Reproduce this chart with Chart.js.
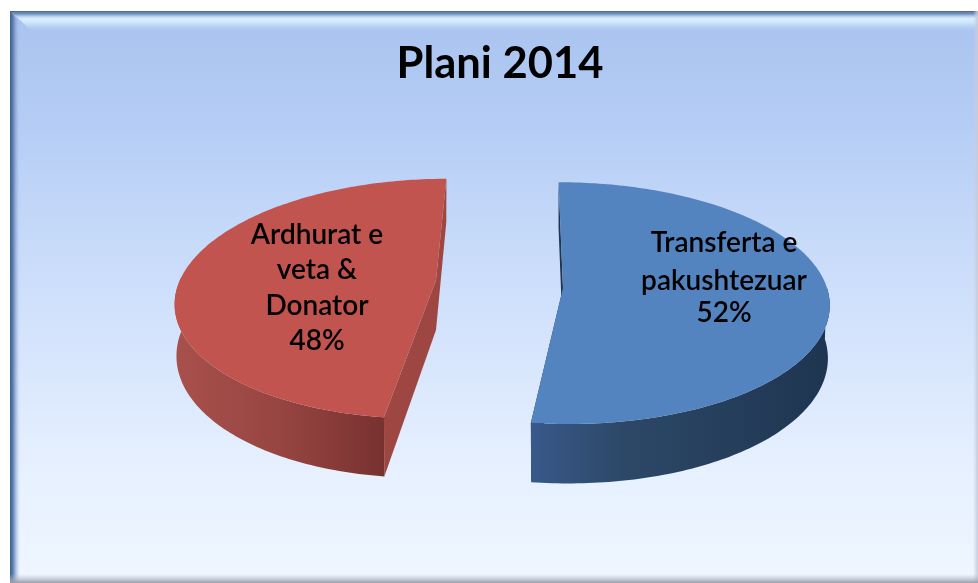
<!DOCTYPE html>
<html>
<head>
<meta charset="utf-8">
<style>html,body{margin:0;padding:0;background:#fff;overflow:hidden}canvas{display:block}</style>
<script src="https://cdn.jsdelivr.net/npm/chart.js@4/dist/chart.umd.min.js"></script>
</head>
<body>
<canvas id="c" width="978" height="583"></canvas>
<script>
const titleText = 'Plani 2014';
const categories = ['Transferta e pakushtezuar', 'Ardhurat e veta & Donator'];
const values = [52, 48];
const labelLines = [['Transferta e', 'pakushtezuar'], ['Ardhurat e', 'veta &', 'Donator']];
const topColors = ['#5484bf', '#c1544f'];

// Projection of each slice (perspective pie seen from above)
const views = [
  {cx:563, cy:288, a:264, b:119, c:5,   k:.125, D:52, cut:'#1f3550',
   wall:[[530,'#38598a'],[620,'#2d4868'],[830,'#1e3550']], labelX:724, labelY:[243,281], pctY:313},
  {cx:436, cy:280, a:256, b:117, c:-12, k:.156, D:50, cut:'#9e4742',
   wall:[[174,'#a8504c'],[280,'#974541'],[382,'#783230']], labelX:317, labelY:[235,270,306], pctY:341}
];
const baseShrink = 0.993; // the lower rim of the disc looks slightly narrower

const project = (v, theta) => {
  const u = Math.sin(theta), d = -Math.cos(theta), w = 1 - v.k * d;
  return {x: v.cx + (v.a * u + v.c * d) / w, y: v.cy + v.b * d / w, h: v.D / w, d};
};
const lower = (v, p) => ({x: v.cx + (p.x - v.cx) * baseShrink, y: p.y + p.h});

const framePlugin = {
  id: 'frame',
  beforeDraw(chart) {
    const g = chart.ctx;
    g.save();
    g.fillStyle = '#fff'; g.fillRect(0, 0, 978, 583);
    let bg = g.createLinearGradient(0, 11, 0, 583);
    bg.addColorStop(0, '#a9c3ef'); bg.addColorStop(.2, '#b5cdf5');
    bg.addColorStop(.5, '#cfe0fb'); bg.addColorStop(.8, '#e6f0ff'); bg.addColorStop(1, '#eff6ff');
    g.fillStyle = bg; g.fillRect(10, 11, 968, 572);
    // top bevel highlight
    let hi = g.createLinearGradient(0, 13, 0, 32);
    hi.addColorStop(0, '#7f9fd0'); hi.addColorStop(.3, '#dcefff');
    hi.addColorStop(.5, '#d0e6ff'); hi.addColorStop(1, 'rgba(176,202,243,0)');
    g.fillStyle = hi;
    g.beginPath(); g.moveTo(13, 13); g.lineTo(978, 13); g.lineTo(978, 32); g.lineTo(32, 32); g.closePath(); g.fill();
    // dark edges
    let l = g.createLinearGradient(10, 0, 20, 0);
    l.addColorStop(0, '#3f5f88'); l.addColorStop(.3, '#5f80b2'); l.addColorStop(1, 'rgba(170,196,240,0)');
    g.fillStyle = l;
    g.beginPath(); g.moveTo(10, 11); g.lineTo(20, 22); g.lineTo(20, 583); g.lineTo(10, 583); g.closePath(); g.fill();
    let t = g.createLinearGradient(0, 11, 0, 16);
    t.addColorStop(0, '#3f5f88'); t.addColorStop(1, 'rgba(95,128,178,0)');
    g.fillStyle = t; g.fillRect(10, 11, 968, 5);
    let r = g.createLinearGradient(973, 0, 978, 0);
    r.addColorStop(0, 'rgba(200,208,224,0)'); r.addColorStop(1, '#c4cbdb');
    g.fillStyle = r; g.fillRect(973, 11, 5, 572);
    let bt = g.createLinearGradient(0, 574, 0, 583);
    bt.addColorStop(0, 'rgba(190,195,210,0)'); bt.addColorStop(1, '#9a9ca8');
    g.fillStyle = bt; g.fillRect(10, 574, 968, 9);
    g.restore();
  }
};

const pie3dPlugin = {
  id: 'pie3d',
  beforeDatasetDraw(chart, args) {
    const g = chart.ctx, arcs = chart.getDatasetMeta(args.index).data;
    arcs.forEach((arc, i) => {
      const v = views[i], s = arc.startAngle + Math.PI / 2, e = arc.endAngle + Math.PI / 2;
      const pts = [];
      const n = Math.ceil((e - s) / (Math.PI / 180));
      for (let j = 0; j <= n; j++) pts.push(project(v, s + (e - s) * j / n));
      const apex = {x: v.cx, y: v.cy, h: v.D};
      const quad = (p, q) => {
        const lp = lower(v, p), lq = lower(v, q);
        g.fillStyle = v.cut;
        g.beginPath(); g.moveTo(p.x, p.y); g.lineTo(q.x, q.y);
        g.lineTo(lq.x, lq.y); g.lineTo(lp.x, lp.y); g.closePath(); g.fill();
      };
      // cut faces
      quad(apex, pts[0]);
      quad(apex, pts[pts.length - 1]);
      // outer wall, front half only
      const front = pts.filter(p => p.d >= -0.02);
      const x0 = v.wall[0][0], x1 = v.wall[v.wall.length - 1][0];
      const grad = g.createLinearGradient(x0, 0, x1, 0);
      v.wall.forEach(w => grad.addColorStop((w[0] - x0) / (x1 - x0), w[1]));
      g.fillStyle = grad;
      g.beginPath();
      front.forEach((p, j) => j ? g.lineTo(p.x, p.y) : g.moveTo(p.x, p.y));
      [...front].reverse().forEach(p => { const q = lower(v, p); g.lineTo(q.x, q.y); });
      g.closePath(); g.fill();
      // top face
      g.fillStyle = topColors[i];
      g.beginPath(); g.moveTo(apex.x, apex.y);
      pts.forEach(p => g.lineTo(p.x, p.y));
      g.closePath(); g.fill();
    });
    return false;
  },
  afterDatasetsDraw(chart) {
    const g = chart.ctx, data = chart.data.datasets[0].data;
    const total = data.reduce((a, b) => a + b, 0);
    g.save();
    g.fillStyle = '#000';
    g.font = '600 28px Lato, "Open Sans", sans-serif';
    g.textAlign = 'center'; g.textBaseline = 'middle';
    views.forEach((v, i) => {
      labelLines[i].forEach((t, j) => g.fillText(t, v.labelX, v.labelY[j]));
      g.fillText(Math.round(data[i] / total * 100) + '%', v.labelX, v.pctY);
    });
    g.restore();
  }
};

new Chart(document.getElementById('c'), {
  type: 'pie',
  data: {labels: categories, datasets: [{data: values, backgroundColor: topColors, borderWidth: 0}]},
  plugins: [framePlugin, pie3dPlugin],
  options: {
    responsive: false,
    animation: false,
    rotation: 0,
    layout: {padding: {top: 38, left: 22}},
    plugins: {
      legend: {display: false},
      tooltip: {enabled: false},
      title: {display: true, text: titleText, color: '#000', padding: 0,
        font: {family: 'Lato, "Open Sans", sans-serif', size: 43.5, weight: 'bold', lineHeight: 1.2}}
    }
  }
});
</script>
</body>
</html>
